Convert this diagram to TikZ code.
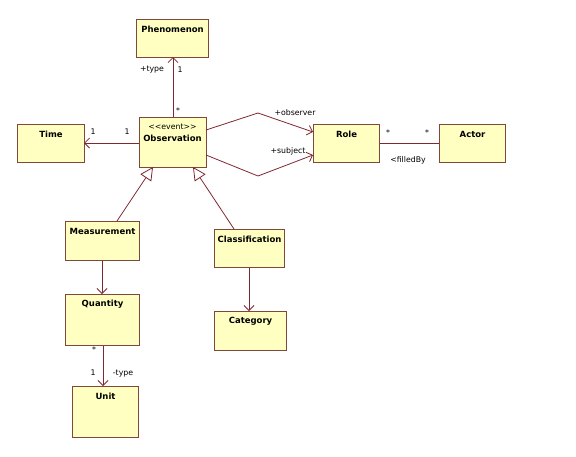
\documentclass[tikz,border=0pt]{standalone}
\usepackage{fontspec}
\setmainfont{DejaVu Sans}
\usetikzlibrary{arrows.meta}
\definecolor{boxfill}{RGB}{255,255,194}
\definecolor{boxline}{RGB}{128,72,56}
\definecolor{conn}{RGB}{128,40,48}
\tikzset{
  box/.style={draw=boxline, fill=boxfill, line width=1.1pt, inner sep=0pt},
  cname/.style={font=\fontsize{8.5}{10}\selectfont\bfseries, inner sep=0pt},
  stereo/.style={font=\fontsize{7.8}{9}\selectfont, inner sep=0pt},
  lbl/.style={font=\fontsize{7.8}{9}\selectfont, inner sep=0pt},
  assoc/.style={draw=conn, line width=0.8pt},
  nav/.style={assoc, -{Straight Barb[length=5pt,width=10pt,line width=0.8pt]}},
  gen/.style={assoc, -{Triangle[open, length=13pt, width=13pt, fill=white, line width=0.8pt]}}
}
\newcommand{\umlbox}[6]{%
  \node[box, anchor=north west, minimum width={(#4-#2)*1pt}, minimum height={(#5-#3)*1pt}] (#1) at (#2,#3) {};%
  \node[cname] (#1T) at ([yshift=-10pt]#1.north) {#6};%
}
\begin{document}
\begin{tikzpicture}[x=1pt, y=-1pt]
\useasboundingbox (0,0) rectangle (576,456);
\fill[white] (0,0) rectangle (576,456);

\umlbox{phen}{136}{19}{208}{57}{Phenomenon}
\umlbox{time}{17}{124}{84}{162}{Time}
\node[box, anchor=north west, minimum width=67pt, minimum height=50pt] (obs) at (139,117) {};
\node[stereo] (obsS) at (172.5,127) {<{}<event>{}>};
\node[cname] (obsT) at (172.5,138.5) {Observation};
\umlbox{role}{313}{124}{379}{162}{Role}
\umlbox{actor}{439}{124}{505}{162}{Actor}
\umlbox{meas}{65}{221}{139}{260}{Measurement}
\umlbox{class}{214}{229}{284}{267}{Classification}
\umlbox{quant}{65}{294}{139}{345}{Quantity}
\umlbox{cat}{214}{311}{286}{350}{Category}
\umlbox{unit}{72}{386}{138}{437}{Unit}

\coordinate (obsU) at (173,117);
\coordinate (phenB) at (173,57);
\draw[nav] (obsU) -- (phenB);
\node[lbl] (l1) at (152,70) {+type};
\node[lbl] (l2) at (180,70) {1};
\node[lbl] (l3) at (178,111) {*};

\coordinate (obsL) at (139,143);
\coordinate (timeR) at (84,143);
\draw[nav] (obsL) -- (timeR);
\node[lbl] (l4) at (93,132) {1};
\node[lbl] (l5) at (127,132) {1};

\coordinate (obsR1) at (206,130);
\coordinate (bend1) at (258,113);
\coordinate (roleL1) at (313,132);
\draw[nav] (obsR1) -- (bend1) -- (roleL1);
\node[lbl] (l6) at (295,113) {+observer};

\coordinate (obsR2) at (206,155);
\coordinate (bend2) at (258,176);
\coordinate (roleL2) at (313,155);
\draw[nav] (obsR2) -- (bend2) -- (roleL2);
\node[lbl] (l7) at (288,151) {+subject};

\draw[assoc] (role.east |- 0,143) -- (actor.west |- 0,143);
\node[lbl] (l8) at (388,133) {*};
\node[lbl] (l9) at (427,133) {*};
\node[lbl] (l10) at (408,160) {<filledBy};

\coordinate (measTop) at (117,221);
\coordinate (obsB1) at (153,167);
\draw[gen] (measTop) -- (obsB1);
\coordinate (classTop) at (234,229);
\coordinate (obsB2) at (193,167);
\draw[gen] (classTop) -- (obsB2);

\draw[nav] (meas.south -| 102,0) -- (quant.north -| 102,0);
\draw[nav] (class.south -| 249,0) -- (cat.north -| 249,0);
\draw[nav] (quant.south -| 103,0) -- (unit.north -| 103,0);
\node[lbl] (l11) at (94,350) {*};
\node[lbl] (l12) at (93,373) {1};
\node[lbl] (l13) at (123,374) {-type};
\end{tikzpicture}
\end{document}
